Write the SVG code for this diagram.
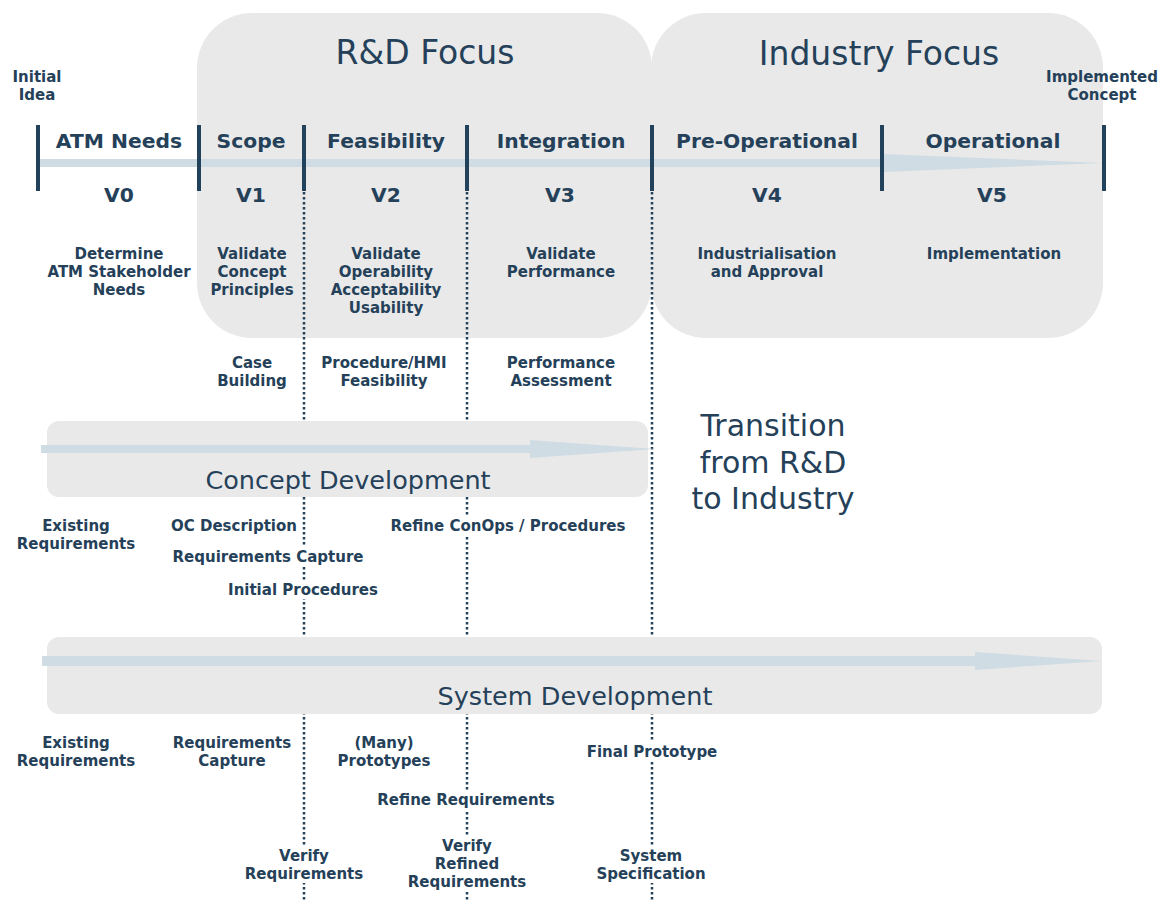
<svg xmlns="http://www.w3.org/2000/svg" width="1163" height="900" viewBox="0 0 1163 900">
<style>
.box{fill:#e9e9e9}
.flow{fill:#cfdce4}
.bar{fill:#22415a}
.dot{stroke:#22415a;stroke-width:2.5;stroke-dasharray:2.5 2.5;fill:none}
.bg{fill:#ffffff}
text{font-family:"DejaVu Sans","Verdana",sans-serif;fill:#254159;text-anchor:middle}
.big{font-size:33px}
.mid{font-size:30px}
.band{font-size:25.5px}
.head{font-size:20.3px;font-weight:bold}
.lbl{font-size:15px;font-weight:bold}
</style>
<rect width="1163" height="900" fill="#ffffff"/>
<g id="rd-focus">
<rect class="box" x="197" y="13" width="455" height="325" rx="55"/>
<text class="big" x="425" y="64">R&amp;D Focus</text>
</g>
<g id="industry-focus">
<rect class="box" x="651" y="13" width="452" height="325" rx="55"/>
<text class="big" x="879" y="65">Industry Focus</text>
</g>
<g id="connectors">
<polygon class="flow" points="38,159 882,159 882,154 1103,163 882,172 882,167 38,167"/>
<rect class="bar" x="36" y="125" width="4" height="66"/>
<rect class="bar" x="197" y="125" width="4" height="66"/>
<rect class="bar" x="302" y="125" width="4" height="66"/>
<rect class="bar" x="465" y="125" width="4" height="66"/>
<rect class="bar" x="650" y="125" width="4" height="66"/>
<rect class="bar" x="880" y="125" width="4" height="66"/>
<rect class="bar" x="1102" y="125" width="4" height="66"/>
<line class="dot" x1="304" y1="192" x2="304" y2="900"/>
<line class="dot" x1="467" y1="192" x2="467" y2="900"/>
<line class="dot" x1="652" y1="192" x2="652" y2="900"/>
</g>
<g id="endpoints">
<text class="lbl" x="37" y="82">Initial</text>
<text class="lbl" x="37" y="100">Idea</text>
<text class="lbl" x="1102" y="82">Implemented</text>
<text class="lbl" x="1102" y="100">Concept</text>
</g>
<g id="phase-v0">
<text class="head" x="119" y="148">ATM Needs</text>
<text class="head" x="119" y="202">V0</text>
<text class="lbl" x="119" y="259">Determine</text>
<text class="lbl" x="119" y="277">ATM Stakeholder</text>
<text class="lbl" x="119" y="295">Needs</text>
</g>
<g id="phase-v1">
<text class="head" x="251" y="148">Scope</text>
<text class="head" x="251" y="202">V1</text>
<text class="lbl" x="252" y="259">Validate</text>
<text class="lbl" x="252" y="277">Concept</text>
<text class="lbl" x="252" y="295">Principles</text>
<text class="lbl" x="252" y="368">Case</text>
<text class="lbl" x="252" y="386">Building</text>
</g>
<g id="phase-v2">
<text class="head" x="386" y="148">Feasibility</text>
<text class="head" x="386" y="202">V2</text>
<text class="lbl" x="386" y="259">Validate</text>
<text class="lbl" x="386" y="277">Operability</text>
<text class="lbl" x="386" y="295">Acceptability</text>
<text class="lbl" x="386" y="313">Usability</text>
<text class="lbl" x="384" y="368">Procedure/HMI</text>
<text class="lbl" x="384" y="386">Feasibility</text>
</g>
<g id="phase-v3">
<text class="head" x="561" y="148">Integration</text>
<text class="head" x="560" y="202">V3</text>
<text class="lbl" x="561" y="259">Validate</text>
<text class="lbl" x="561" y="277">Performance</text>
<text class="lbl" x="561" y="368">Performance</text>
<text class="lbl" x="561" y="386">Assessment</text>
</g>
<g id="phase-v4">
<text class="head" x="767" y="148">Pre-Operational</text>
<text class="head" x="767" y="202">V4</text>
<text class="lbl" x="767" y="259">Industrialisation</text>
<text class="lbl" x="767" y="277">and Approval</text>
</g>
<g id="phase-v5">
<text class="head" x="993" y="148">Operational</text>
<text class="head" x="992" y="202">V5</text>
<text class="lbl" x="994" y="259">Implementation</text>
</g>
<g id="concept-development">
<rect class="box" x="47" y="421" width="601" height="76" rx="12"/>
<polygon class="flow" points="41,445 530,445 530,440 655,449 530,458 530,453 41,453"/>
<text class="band" x="348" y="489">Concept Development</text>
</g>
<g id="transition">
<text class="mid" x="773" y="436">Transition</text>
<text class="mid" x="773" y="473">from R&amp;D</text>
<text class="mid" x="773" y="509">to Industry</text>
</g>
<g id="concept-labels">
<text class="lbl" x="76" y="531">Existing</text>
<text class="lbl" x="76" y="549">Requirements</text>
<text class="lbl" x="234" y="531">OC Description</text>
<rect class="bg" x="168" y="547" width="200" height="19"/>
<text class="lbl" x="268" y="562">Requirements Capture</text>
<rect class="bg" x="224" y="580" width="159" height="19"/>
<text class="lbl" x="303" y="595">Initial Procedures</text>
<rect class="bg" x="382" y="516" width="252" height="19"/>
<text class="lbl" x="508" y="531">Refine ConOps / Procedures</text>
</g>
<g id="system-development">
<rect class="box" x="47" y="637" width="1055" height="77" rx="12"/>
<polygon class="flow" points="42,656 975,656 975,652 1102,661 975,670 975,666 42,666"/>
<text class="band" x="575" y="705">System Development</text>
</g>
<g id="system-labels">
<text class="lbl" x="76" y="748">Existing</text>
<text class="lbl" x="76" y="766">Requirements</text>
<text class="lbl" x="232" y="748">Requirements</text>
<text class="lbl" x="232" y="766">Capture</text>
<text class="lbl" x="384" y="748">(Many)</text>
<text class="lbl" x="384" y="766">Prototypes</text>
<rect class="bg" x="583" y="742" width="139" height="20"/>
<text class="lbl" x="652" y="757">Final Prototype</text>
<rect class="bg" x="371" y="790" width="190" height="20"/>
<text class="lbl" x="466" y="805">Refine Requirements</text>
<rect class="bg" x="240" y="845" width="128" height="38"/>
<text class="lbl" x="304" y="861">Verify</text>
<text class="lbl" x="304" y="879">Requirements</text>
<rect class="bg" x="403" y="835" width="128" height="56"/>
<text class="lbl" x="467" y="851">Verify</text>
<text class="lbl" x="467" y="869">Refined</text>
<text class="lbl" x="467" y="887">Requirements</text>
<rect class="bg" x="592" y="845" width="119" height="38"/>
<text class="lbl" x="651" y="861">System</text>
<text class="lbl" x="651" y="879">Specification</text>
</g>
</svg>
